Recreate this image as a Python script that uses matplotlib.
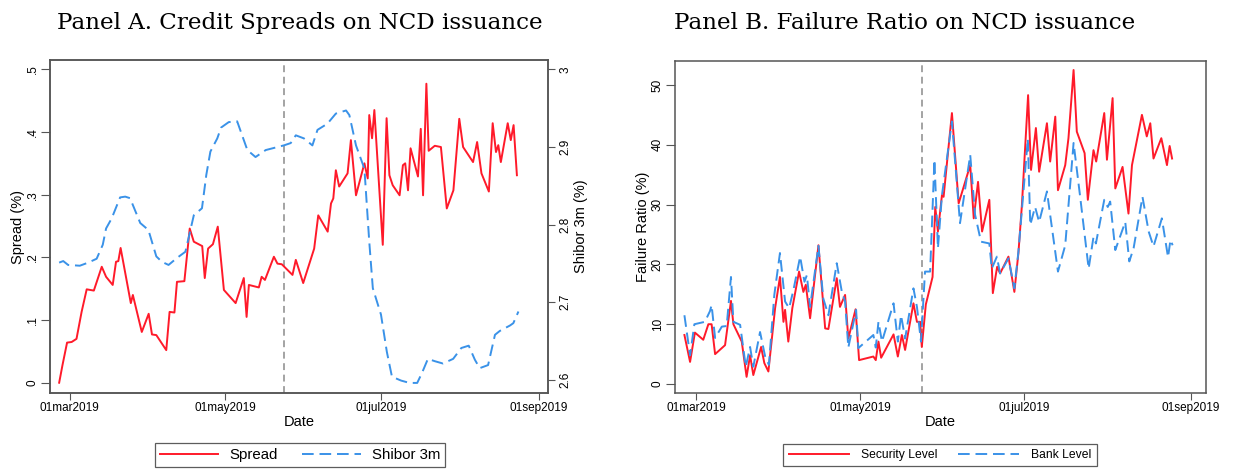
import matplotlib
matplotlib.use("Agg")
import matplotlib.pyplot as plt
import pandas as pd

plt.rcParams.update({
    "font.family": ["Liberation Sans", "DejaVu Sans"],
    "figure.facecolor": "white",
    "axes.facecolor": "white",
})

RED = "#ff1a2a"
BLUE = "#3a92e8"
GREY = "#8a8a8a"
FRAME = "#555555"
BASE = pd.Timestamp("2019-03-01")

# ── Panel A data: days after 01mar2019 and values (10 per row) ──────────────
spread_day = [-4.2, -2.9, -1.1, 0.7, 2.6, 4.6, 6.6, 9.4, 12.5, 14.2,
              16.8, 18.1, 19.0, 19.9, 23.9, 24.7, 28.2, 30.9, 32.2, 33.9,
              37.8, 39.1, 41.0, 42.0, 44.9, 47.0, 48.6, 51.9, 52.9, 54.2,
              56.1, 58.0, 60.4, 65.0, 68.2, 69.3, 70.2, 74.1, 75.2, 76.5,
              80.0, 81.4, 83.1, 87.3, 88.6, 91.5, 95.8, 97.4, 101.1, 102.4,
              103.3, 104.3, 105.6, 108.9, 110.2, 112.2, 115.5, 116.8, 117.4, 118.5,
              119.4, 122.7, 124.2, 125.3, 126.6, 129.3, 130.6, 131.5, 132.6, 133.6,
              136.5, 137.6, 138.5, 139.8, 140.7, 143.1, 145.5, 147.8, 150.4, 152.7,
              154.2, 158.1, 159.7, 161.4, 164.3, 165.8, 167.1, 168.0, 169.0, 171.7,
              172.9, 174.0, 175.3]
spread_val = [0.000, 0.028, 0.064, 0.065, 0.070, 0.113, 0.149, 0.147, 0.185, 0.169,
              0.156, 0.193, 0.194, 0.215, 0.127, 0.140, 0.081, 0.110, 0.077, 0.076,
              0.052, 0.113, 0.112, 0.161, 0.162, 0.246, 0.225, 0.218, 0.167, 0.214,
              0.221, 0.249, 0.148, 0.127, 0.167, 0.105, 0.156, 0.152, 0.169, 0.164,
              0.201, 0.190, 0.189, 0.172, 0.196, 0.159, 0.214, 0.267, 0.241, 0.286,
              0.294, 0.339, 0.313, 0.334, 0.387, 0.299, 0.350, 0.326, 0.427, 0.390,
              0.435, 0.220, 0.422, 0.331, 0.315, 0.299, 0.347, 0.350, 0.307, 0.374,
              0.329, 0.405, 0.299, 0.477, 0.370, 0.378, 0.376, 0.278, 0.307, 0.421,
              0.376, 0.352, 0.384, 0.334, 0.305, 0.414, 0.368, 0.379, 0.352, 0.414,
              0.387, 0.411, 0.331]

shibor_day = [-4.2, -2.6, -0.7, 3.9, 7.2, 10.5, 12.9, 14.2, 16.4, 19.7,
              21.7, 23.6, 27.6, 30.8, 33.9, 36.1, 38.7, 42.0, 45.3, 48.6,
              51.8, 53.5, 55.1, 57.8, 59.3, 62.3, 65.6, 69.6, 72.8, 76.8,
              83.9, 86.6, 88.6, 91.8, 95.1, 97.1, 101.0, 104.3, 108.3, 109.6,
              112.2, 115.5, 117.4, 118.8, 122.0, 124.3, 126.3, 129.9, 133.2, 136.2,
              138.1, 140.4, 143.1, 146.3, 150.3, 153.5, 156.4, 158.8, 160.7, 164.0,
              166.7, 168.6, 172.6, 173.9, 175.9]
shibor_val = [2.751, 2.753, 2.748, 2.747, 2.751, 2.756, 2.774, 2.795, 2.808, 2.835,
              2.836, 2.834, 2.802, 2.793, 2.759, 2.752, 2.748, 2.757, 2.765, 2.812,
              2.821, 2.864, 2.894, 2.911, 2.925, 2.932, 2.933, 2.896, 2.887, 2.896,
              2.902, 2.905, 2.915, 2.911, 2.902, 2.922, 2.930, 2.943, 2.947, 2.941,
              2.902, 2.872, 2.778, 2.718, 2.684, 2.636, 2.604, 2.599, 2.596, 2.596,
              2.609, 2.627, 2.624, 2.621, 2.627, 2.641, 2.644, 2.626, 2.615, 2.619,
              2.658, 2.663, 2.670, 2.673, 2.688]

# ── Panel B data ────────────────────────────────────────────────────────────
sec_day = [-4.3, -2.2, -0.4, 2.7, 4.6, 5.8, 7.1, 10.8, 13.0, 13.9,
           17.0, 18.8, 20.1, 21.3, 24.2, 25.4, 26.9, 29.4, 31.2, 32.5,
           33.1, 34.3, 35.8, 38.3, 39.9, 40.8, 42.4, 45.5, 48.0, 49.2,
           52.3, 53.5, 55.4, 56.6, 59.3, 60.6, 65.9, 66.8, 67.8, 68.8,
           73.4, 75.0, 76.5, 77.7, 80.8, 82.1, 83.3, 83.9, 85.4, 87.9,
           88.9, 89.9, 91.4, 92.0, 95.1, 97.6, 101.9, 103.2, 104.8, 106.3,
           109.0, 110.3, 111.9, 113.0, 116.1, 118.3, 119.8, 121.1, 123.4, 124.5,
           126.3, 127.5, 130.4, 131.6, 133.5, 134.5, 137.2, 138.4, 140.3, 141.5,
           144.4, 145.6, 147.7, 148.7, 151.7, 152.7, 154.8, 155.8, 158.5, 160.7,
           162.0, 165.7, 167.5, 168.8, 170.0, 172.9, 175.0, 176.0, 176.9]
sec_val = [8.2, 3.7, 8.6, 7.4, 10.0, 10.0, 5.0, 6.5, 13.9, 10.0,
           7.1, 1.2, 4.8, 1.5, 6.2, 3.5, 2.1, 12.7, 17.9, 10.4,
           12.4, 7.1, 12.7, 18.8, 15.4, 16.6, 11.0, 23.2, 9.3, 9.2,
           17.7, 12.9, 14.9, 7.6, 12.5, 4.0, 4.6, 4.0, 7.1, 4.4,
           8.3, 4.6, 8.2, 5.7, 13.5, 10.4, 10.4, 6.2, 13.3, 17.9,
           29.6, 25.5, 31.6, 31.3, 45.3, 30.2, 36.6, 27.7, 33.8, 25.5,
           30.8, 15.2, 19.6, 18.5, 21.3, 15.4, 21.9, 29.9, 48.3, 35.8,
           42.8, 35.5, 43.6, 37.2, 44.7, 32.4, 36.6, 41.1, 52.5, 42.2,
           38.6, 30.8, 39.1, 37.2, 45.3, 37.5, 47.8, 32.7, 36.3, 28.5,
           36.6, 45.0, 41.4, 43.6, 37.7, 41.1, 36.6, 39.8, 37.7]

bank_day = [-4.3, -2.2, -0.6, 3.3, 5.2, 5.8, 7.1, 9.6, 11.4, 13.0,
            13.9, 16.4, 18.5, 20.1, 21.3, 23.8, 25.7, 27.1, 29.1, 31.2,
            33.1, 34.6, 36.2, 38.7, 40.3, 41.2, 42.4, 45.5, 47.3, 49.2,
            52.3, 54.2, 55.4, 56.6, 59.5, 60.3, 65.9, 66.8, 67.8, 69.1,
            73.4, 75.0, 76.2, 77.7, 80.8, 82.1, 83.6, 85.1, 87.0, 88.6,
            89.9, 91.4, 95.1, 98.1, 101.9, 103.7, 105.9, 109.0, 109.9, 111.8,
            113.0, 116.1, 118.3, 119.8, 123.3, 124.2, 126.0, 127.5, 130.4, 134.5,
            137.2, 140.3, 142.8, 145.9, 147.7, 148.6, 151.7, 153.0, 153.9, 155.8,
            159.5, 161.0, 162.6, 165.9, 168.2, 170.0, 173.1, 175.4, 176.3, 177.1]
bank_val = [11.5, 4.8, 10.0, 10.4, 12.2, 13.2, 7.7, 9.6, 9.7, 17.9,
            10.4, 9.9, 2.9, 6.2, 2.9, 8.7, 4.6, 3.2, 14.9, 21.9,
            13.8, 12.7, 15.7, 21.3, 17.1, 18.2, 12.9, 23.1, 14.3, 11.5,
            20.2, 15.4, 13.8, 6.1, 12.4, 6.0, 8.2, 6.1, 10.4, 7.1,
            13.5, 7.1, 11.5, 7.6, 16.0, 12.9, 7.1, 18.8, 18.8, 37.5,
            22.7, 31.6, 43.9, 26.9, 38.3, 28.3, 23.8, 23.5, 19.3, 21.3,
            18.5, 21.0, 16.0, 22.1, 41.0, 26.6, 29.6, 27.1, 32.2, 18.8,
            23.2, 40.3, 31.1, 19.3, 24.6, 23.5, 30.8, 29.6, 30.5, 22.4,
            27.1, 20.5, 22.7, 31.3, 25.5, 23.0, 27.7, 21.2, 24.1, 23.2]

event_day = 84
tick_days = [0, 61, 122, 184]
tick_labels = ["01mar2019", "01may2019", "01jul2019", "01sep2019"]


def to_dates(days):
    return BASE + pd.to_timedelta(days, unit="D")


def style_axes(ax, xmax):
    for s in ax.spines.values():
        s.set_color(FRAME)
        s.set_linewidth(1.1)
    ax.set_xlim(to_dates([-7.8])[0], to_dates([xmax])[0])
    ax.set_xticks(to_dates(tick_days))
    ax.set_xticklabels(tick_labels)
    ax.tick_params(axis="x", length=5, width=0.8, color=FRAME, labelsize=8.5, pad=1.5)
    ax.tick_params(axis="y", length=6.5, width=0.8, color=FRAME, labelsize=8.5, pad=1.5,
                   labelrotation=90)
    ax.set_xlabel("Date", fontsize=10.5, labelpad=1)
    ax.axvline(to_dates([event_day])[0], color=GREY, lw=1.1, dashes=(4.5, 3))


fig = plt.figure(figsize=(12.34, 4.70), dpi=100)

# ── Panel A ─────────────────────────────────────────────────────────────────
ax1 = fig.add_axes([0.0405, 0.1638, 0.4036, 0.7085])
style_axes(ax1, 187.5)
l1, = ax1.plot(to_dates(spread_day), spread_val, color=RED, lw=1.4, label="Spread")
ax1.set_ylim(-0.0164, 0.5148)
ax1.set_yticks([0, 0.1, 0.2, 0.3, 0.4, 0.5])
ax1.set_yticklabels(["0", ".1", ".2", ".3", ".4", ".5"], va="center")
ax1.set_ylabel("Spread (%)", fontsize=10.5, labelpad=1)

ax2 = ax1.twinx()
l2, = ax2.plot(to_dates(shibor_day), shibor_val, color=BLUE, lw=1.4, dashes=(6, 3),
               label="Shibor 3m")
ax2.set_ylim(2.583, 3.012)
ax2.set_yticks([2.6, 2.7, 2.8, 2.9, 3.0])
ax2.set_yticklabels(["2.6", "2.7", "2.8", "2.9", "3"], va="center")
ax2.tick_params(axis="y", length=5, width=0.8, color=FRAME, labelsize=8.5, pad=3,
                labelrotation=90)
ax2.set_ylabel("Shibor 3m (%)", fontsize=10.5, labelpad=2)
for s in ax2.spines.values():
    s.set_color(FRAME)
    s.set_linewidth(1.1)

legA = fig.legend(handles=[l1, l2], loc="center", bbox_to_anchor=(300 / 1234, 1 - 455 / 470),
                  ncol=2, fontsize=10.8, frameon=True, fancybox=False, handlelength=3.9,
                  columnspacing=1.6, handletextpad=0.75, borderpad=0.35)
legA.get_frame().set_edgecolor("#333333")
legA.get_frame().set_linewidth(0.9)

# ── Panel B ─────────────────────────────────────────────────────────────────
ax3 = fig.add_axes([0.547, 0.1638, 0.4303, 0.7071])
style_axes(ax3, 189.5)
l3, = ax3.plot(to_dates(sec_day), sec_val, color=RED, lw=1.4, label="Security Level")
l4, = ax3.plot(to_dates(bank_day), bank_val, color=BLUE, lw=1.4, dashes=(6, 3),
               label="Bank Level")
ax3.set_ylim(-1.5, 54.06)
ax3.set_yticks([0, 10, 20, 30, 40, 50])
ax3.set_yticklabels(["0", "10", "20", "30", "40", "50"], va="center")
ax3.set_ylabel("Failure Ratio (%)", fontsize=10.5, labelpad=1.5)

legB = fig.legend(handles=[l3, l4], loc="center", bbox_to_anchor=(940 / 1234, 1 - 455 / 470),
                  ncol=2, fontsize=8.7, frameon=True, fancybox=False, handlelength=5.0,
                  columnspacing=1.7, handletextpad=1.0, borderpad=0.45)
legB.get_frame().set_edgecolor("#333333")
legB.get_frame().set_linewidth(0.9)

# ── Titles ──────────────────────────────────────────────────────────────────
title_font = ["DejaVu Serif"]
fig.text(300 / 1234, 1 - 29 / 470, "Panel A. Credit Spreads on NCD issuance",
         ha="center", va="baseline", fontsize=16.6, family=title_font)
fig.text(905 / 1234, 1 - 29 / 470, "Panel B. Failure Ratio on NCD issuance",
         ha="center", va="baseline", fontsize=16.6, family=title_font)

fig.savefig("out.png", dpi=100)
